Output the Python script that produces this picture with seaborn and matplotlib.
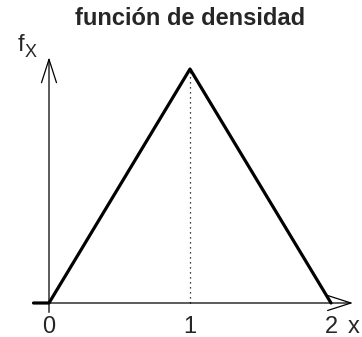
import matplotlib
matplotlib.use("Agg")
import matplotlib.pyplot as plt
import seaborn as sns
import pandas as pd

sns.set_theme(style="white")
plt.rcParams["font.family"] = ["Liberation Sans", "DejaVu Sans"]

# Triangular density on [0, 2] with its peak at x = 1
x_vals = [-0.11, 0.0, 1.0, 2.0]
f_vals = [0.0, 0.0, 1.0, 0.0]
tick_pos = [0, 1, 2]
tick_labels = ["0", "1", "2"]
title = "función de densidad"

df = pd.DataFrame({"x": x_vals, "f": f_vals})

fig = plt.figure(figsize=(3.62, 3.37), dpi=100)
ax = fig.add_axes([0, 0, 1, 1])
ax.set_xlim(-49 / 141, (362 - 49) / 141)
ax.set_ylim(-34 / 234, 303 / 234)
ax.axis("off")

# coordinate axes with open arrow heads
arrow = dict(arrowstyle="->,head_length=1.4,head_width=0.45", lw=0.9,
             color="black", shrinkA=0, shrinkB=0)
ax.annotate("", xy=(2.156, 0), xytext=(-0.11, 0), arrowprops=arrow)
ax.annotate("", xy=(0, 1.05), xytext=(0, -0.04), arrowprops=arrow)

# dotted guide under the mode
ax.plot([1, 1], [0, 1], color="black", lw=0.9, ls=(0, (1, 3)))

sns.lineplot(data=df, x="x", y="f", sort=False, color="black", lw=2.3,
             ax=ax, legend=False)

for p, lab in zip(tick_pos, tick_labels):
    ax.text(p, -0.055, lab, ha="center", va="top", fontsize=17)
ax.text(2.16, -0.055, "x", ha="center", va="top", fontsize=17)

ax.text(-0.2, 1.075, "f", ha="center", va="baseline", fontsize=17)
ax.text(-0.175, 1.05, "X", ha="left", va="baseline", fontsize=13)

ax.text(1.0, 1.265, title, ha="center", va="top", fontsize=17,
        fontweight="bold")

fig.savefig("out.png", dpi=100)
